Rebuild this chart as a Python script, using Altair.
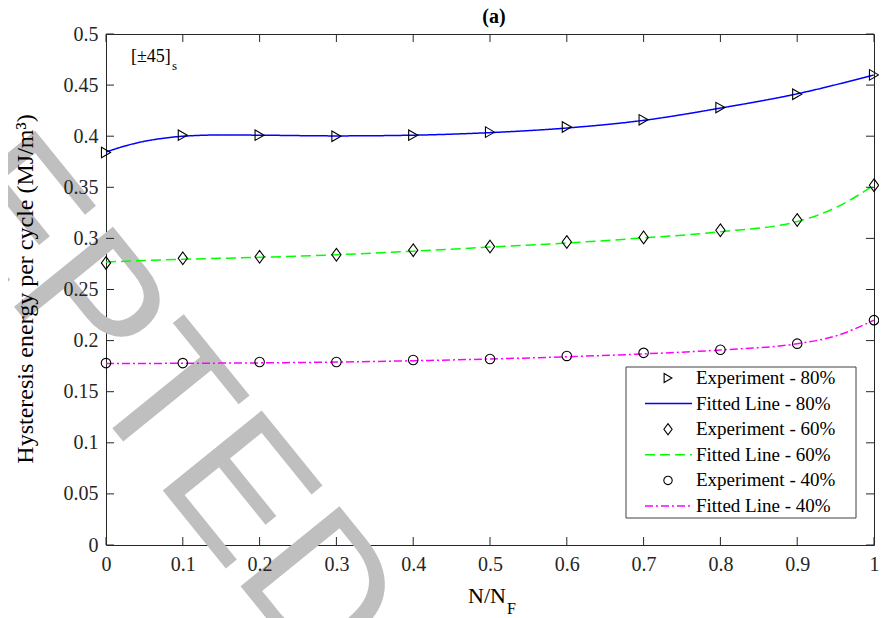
import altair as alt
import pandas as pd

# plot area placement on the page (page margin is 8px)
OX, OY = 106, 34          # page coords of plot's top-left corner
W, H = 768, 511
SERIF = "Liberation Serif"
AX = "#262626"

def px(page_x):
    return page_x - OX

def py(page_y):
    return page_y - OY

# ---------------- data ----------------
x_exp = [0.0, 0.1, 0.2, 0.3, 0.4, 0.5, 0.6, 0.7, 0.8, 0.9, 1.0]
exp_80 = [0.384, 0.401, 0.401, 0.400, 0.401, 0.404, 0.409, 0.416, 0.428, 0.441, 0.460]
exp_60 = [0.276, 0.2805, 0.282, 0.284, 0.2885, 0.292, 0.2965, 0.301, 0.308, 0.318, 0.352]
exp_40 = [0.178, 0.178, 0.179, 0.179, 0.181, 0.182, 0.185, 0.188, 0.191, 0.197, 0.220]

x_fit_80 = [0.0, 0.025, 0.05, 0.075, 0.1, 0.15, 0.2, 0.3, 0.4, 0.5, 0.6, 0.7, 0.8, 0.9, 1.0]
fit_80 = [0.3845, 0.3905, 0.395, 0.398, 0.400, 0.4012, 0.401, 0.4003, 0.401, 0.4035,
          0.408, 0.4155, 0.4275, 0.4415, 0.460]
x_fit = [0.0, 0.1, 0.2, 0.3, 0.4, 0.5, 0.6, 0.7, 0.8, 0.9, 0.95, 1.0]
fit_60 = [0.277, 0.2795, 0.2815, 0.284, 0.2875, 0.2915, 0.2955, 0.3005, 0.3065, 0.3165, 0.330, 0.352]
fit_40 = [0.1775, 0.1778, 0.1782, 0.179, 0.1803, 0.182, 0.1842, 0.187, 0.1908, 0.197, 0.2045, 0.220]

x_ticks = [0, 0.1, 0.2, 0.3, 0.4, 0.5, 0.6, 0.7, 0.8, 0.9, 1]
y_ticks = [0, 0.05, 0.1, 0.15, 0.2, 0.25, 0.3, 0.35, 0.4, 0.45, 0.5]

legend_labels = ["Experiment - 80%", "Fitted Line - 80%", "Experiment - 60%",
                 "Fitted Line - 60%", "Experiment - 40%", "Fitted Line - 40%"]

# ---------------- encodings ----------------
xs = alt.Scale(domain=[0, 1], nice=False, zero=False)
ys = alt.Scale(domain=[0, 0.5], nice=False, zero=False)
x_axis = alt.Axis(values=x_ticks, format="~g", ticks=False, domain=False, grid=False,
                  labelFont=SERIF, labelFontSize=20, labelColor=AX, labelPadding=9,
                  labelFlush=False, zindex=1)
y_axis = alt.Axis(values=y_ticks, format="~g", ticks=False, domain=False, grid=False,
                  labelFont=SERIF, labelFontSize=20, labelColor=AX, labelPadding=8,
                  zindex=1)
X = alt.X("x:Q", scale=xs, axis=x_axis, title=None)
Y = alt.Y("y:Q", scale=ys, axis=y_axis, title=None)

layers = []

# watermark
wm = alt.Chart(pd.DataFrame({"t": ["ACCEPTED"]})).mark_text(
    angle=51, align="center", baseline="alphabetic", font="Liberation Sans",
    fontSize=185, color="#bfbfbf"
).encode(x=alt.value(px(-2)), y=alt.value(py(287)), text="t:N")
layers.append(wm)

# fitted lines
def fit_line(xv, yv, color, dash):
    df = pd.DataFrame({"x": xv, "y": yv})
    return alt.Chart(df).mark_line(color=color, strokeWidth=1.5, strokeDash=dash,
                                   interpolate="monotone").encode(x=X, y=Y)

layers.append(fit_line(x_fit_80, fit_80, "#0000ff", [1, 0]))
layers.append(fit_line(x_fit, fit_60, "#00ff00", [10, 5]))
layers.append(fit_line(x_fit, fit_40, "#ff00ff", [8, 3, 2, 3]))

DIAMOND = "M0,-1.3L0.95,0L0,1.3L-0.95,0Z"

def exp_pts(yv, shape, size):
    df = pd.DataFrame({"x": x_exp, "y": yv})
    return alt.Chart(df).mark_point(shape=shape, size=size, filled=False, color="black",
                                    strokeWidth=1.1, opacity=1).encode(x=X, y=Y)

layers.append(exp_pts(exp_80, "triangle-right", 110))
layers.append(exp_pts(exp_60, DIAMOND, 95))
layers.append(exp_pts(exp_40, "circle", 90))

# inward ticks on all four sides
TL = 8
xt = alt.Chart(pd.DataFrame({"x": x_ticks}))
yt = alt.Chart(pd.DataFrame({"y": y_ticks}))
layers.append(xt.mark_rule(color=AX, strokeWidth=1).encode(x=X, y=alt.value(H), y2=alt.value(H - TL)))
layers.append(xt.mark_rule(color=AX, strokeWidth=1).encode(x=X, y=alt.value(0), y2=alt.value(TL)))
layers.append(yt.mark_rule(color=AX, strokeWidth=1).encode(y=Y, x=alt.value(0), x2=alt.value(TL)))
layers.append(yt.mark_rule(color=AX, strokeWidth=1).encode(y=Y, x=alt.value(W), x2=alt.value(W - TL)))

# legend box
one = pd.DataFrame({"a": [0]})
layers.append(alt.Chart(one).mark_rect(fill="white", stroke="#404040", strokeWidth=1).encode(
    x=alt.value(px(626)), x2=alt.value(px(856)), y=alt.value(py(367)), y2=alt.value(py(518))))

row0, step = 378.0, 25.6
shapes = {0: ("triangle-right", 80), 2: (DIAMOND, 75), 4: ("circle", 70)}
lines = {1: ("#0000ff", [1, 0]), 3: ("#00ff00", [10, 5]), 5: ("#ff00ff", [8, 3, 2, 3])}
for i, lab in enumerate(legend_labels):
    yy = py(row0 + step * i)
    layers.append(alt.Chart(pd.DataFrame({"t": [lab]})).mark_text(
        align="left", baseline="middle", font=SERIF, fontSize=19, color="black"
    ).encode(x=alt.value(px(696)), y=alt.value(yy), text="t:N"))
    if i in shapes:
        shp, sz = shapes[i]
        layers.append(alt.Chart(one).mark_point(shape=shp, size=sz, filled=False, color="black",
                                                strokeWidth=1.1, opacity=1).encode(
            x=alt.value(px(668)), y=alt.value(yy)))
    else:
        col, dash = lines[i]
        layers.append(alt.Chart(one).mark_rule(color=col, strokeWidth=1.5, strokeDash=dash).encode(
            x=alt.value(px(645)), x2=alt.value(px(692)), y=alt.value(yy)))

# annotations
def txt(s, x, y, size, weight="normal", angle=0, align="left"):
    return alt.Chart(pd.DataFrame({"t": [s]})).mark_text(
        align=align, baseline="alphabetic", font=SERIF, fontSize=size, fontWeight=weight,
        angle=angle, color="black"
    ).encode(x=alt.value(px(x)), y=alt.value(py(y)), text="t:N")

layers.append(txt("[±45]", 131, 62, 18))
layers.append(txt("s", 172, 70, 13))
layers.append(txt("(a)", 494, 23, 20, weight="bold", align="center"))
layers.append(txt("N/N", 468, 603, 22))
layers.append(txt("F", 507, 614, 16))
layers.append(txt("Hysteresis energy per cycle (MJ/m³)", 33, 289, 24, angle=270, align="center"))

chart = alt.layer(*layers).properties(
    width=W, height=H,
    autosize=alt.AutoSizeParams(type="none"),
    padding={"left": OX - 8, "top": OY - 8, "right": 5, "bottom": 73},
).configure_view(stroke=AX, strokeWidth=1)

chart.save("out.html", embed_options={"renderer": "svg", "actions": False})
